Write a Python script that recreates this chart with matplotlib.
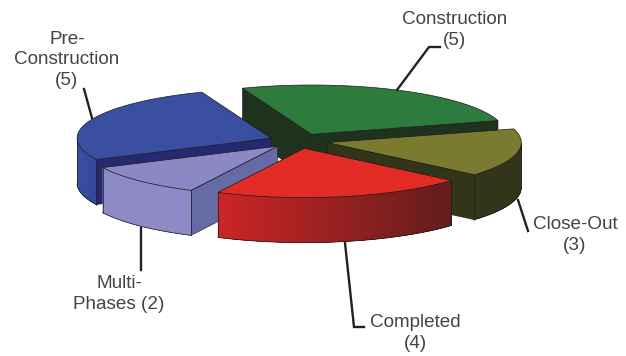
import numpy as np
import matplotlib
matplotlib.use('Agg')
import matplotlib.pyplot as plt
from matplotlib.patches import Polygon

plt.rcParams['font.family'] = ['Liberation Sans', 'DejaVu Sans']

# slices, clockwise from the back left
names = ['Construction', 'Close-Out', 'Completed', 'Multi-Phases', 'Pre-Construction']
values = [5, 3, 4, 2, 5]
tops = ['#2e7b3e', '#7a7b30', '#e22b25', '#8c88c3', '#3a4fa0']
cuts = ['#1e321e', '#33351a', '#7a1e1e', '#666aa5', '#262870']
side_left = ['#1e321e', '#33351a', '#cc2525', '#8d8ac5', '#3a4fa0']
side_right = ['#1e321e', '#33351a', '#621c1c', '#8d8ac5', '#34489a']
draw_order = [0, 4, 1, 3, 2]

# label text and leader lines, in pixels
label_text = ['Construction\n(5)', 'Close-Out\n(3)', 'Completed\n(4)', 'Multi-\nPhases (2)', 'Pre-\nConstruction\n(5)']
label_pos = [(455, 30), (575, 235), (415, 333), (119, 294), (67, 60)]
leaders = [[(397, 90), (429, 47), (440, 47)],
           [(518, 200), (528, 231)],
           [(345, 243), (354, 327), (364, 327)],
           [(141, 228), (141, 270)],
           [(84, 89), (92, 118)]]

cx, cy = 298.5, 141.0
rx = 194.0
tilt = 0.254
height = 45.0
explode = 29.5
start = 110.9

fig = plt.figure(figsize=(6.26, 3.56), dpi=100)
ax = fig.add_axes([0, 0, 1, 1])
ax.set_xlim(0, 626)
ax.set_ylim(356, 0)
ax.axis('off')

def rim(a, x0, y0):
    r = np.radians(a)
    return x0 + rx*np.cos(r), y0 - rx*tilt*np.sin(r)

angles = start - np.cumsum([0] + values)*360.0/sum(values)

for i in draw_order:
    a0, a1 = angles[i], angles[i+1]
    mid = np.radians((a0 + a1)/2)
    x0 = cx + explode*np.cos(mid)
    y0 = cy - explode*tilt*np.sin(mid)
    t = np.linspace(a0, a1, 80)
    xr, yr = rim(t, x0, y0)

    # flat cut faces, only the ones turned to the viewer
    for a, xe, ye, front in [(a0, xr[0], yr[0], np.sin(np.radians(a0 + 90)) < 0),
                             (a1, xr[-1], yr[-1], np.sin(np.radians(a1 - 90)) < 0)]:
        if front:
            ax.add_patch(Polygon([(x0, y0), (xe, ye), (xe, ye+height), (x0, y0+height)],
                                 fc=cuts[i], ec='#1a1a1a', lw=0.4))

    # outer wall in small strips, each one lapping over the next to hide seams
    s0 = matplotlib.colors.to_rgb(side_left[i])
    s1 = matplotlib.colors.to_rgb(side_right[i])
    vis = np.sin(np.radians(t)) < 0
    if vis.sum() > 1:
        xv, yv = xr[vis], yr[vis]
        order = np.argsort(xv)
        xv, yv = xv[order], yv[order]
        n = len(xv)
        for k in range(n-1):
            f = (xv[k] - xv[0])/(xv[-1] - xv[0])
            c = [s0[j] + (s1[j]-s0[j])*f for j in range(3)]
            xs = xv[k:k+6]
            ys = yv[k:k+6]
            ax.add_patch(Polygon(np.vstack([np.column_stack([xs, ys]),
                                            np.column_stack([xs, ys+height])[::-1]]),
                                 fc=c, ec='none', lw=0))
        ax.plot(xv, yv+height, color='#1a1a1a', lw=0.5)
        ax.plot([xv[0], xv[0]], [yv[0], yv[0]+height], color='#1a1a1a', lw=0.5)
        ax.plot([xv[-1], xv[-1]], [yv[-1], yv[-1]+height], color='#1a1a1a', lw=0.5)

    ax.add_patch(Polygon(np.vstack([[x0, y0], np.column_stack([xr, yr])]),
                         fc=tops[i], ec='#1a1a1a', lw=0.5))

for pts in leaders:
    ax.plot([p[0] for p in pts], [p[1] for p in pts], color='#222222', lw=1.7, solid_joinstyle='miter')

for txt, (x, y) in zip(label_text, label_pos):
    ax.text(x, y, txt, ha='center', va='center', fontsize=13.6, color='#444444', linespacing=1.25)

fig.savefig('out.png', dpi=100)
